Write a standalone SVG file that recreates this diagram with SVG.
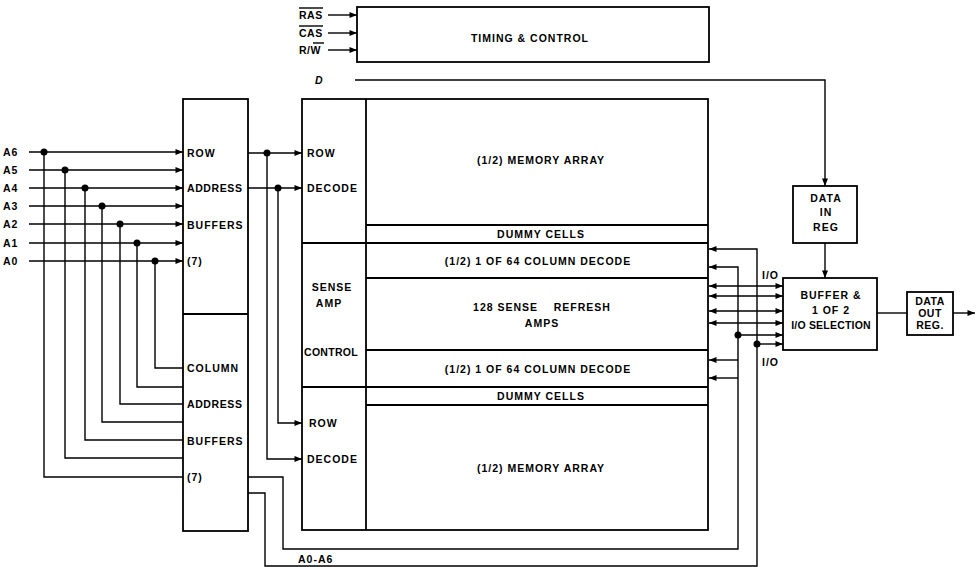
<svg xmlns="http://www.w3.org/2000/svg" width="979" height="567" viewBox="0 0 979 567">
<style>
.b{fill:none;stroke:#000;stroke-width:1.8}
.l{fill:none;stroke:#000;stroke-width:1.4}
.d{fill:#000}
text{font-family:"Liberation Sans",Arial,sans-serif;font-size:10.5px;font-weight:bold;fill:#000;letter-spacing:1px}
.m{text-anchor:middle}
</style>
<defs>
<marker id="a" viewBox="0 0 10 8" refX="10" refY="4" markerWidth="8" markerHeight="6" markerUnits="userSpaceOnUse" orient="auto-start-reverse"><path d="M0,0L10,4L0,8z"/></marker>
</defs>
<rect width="979" height="567" fill="#fff"/>

<g id="timing">
<rect class="b" x="357" y="7" width="352" height="55"/>
<text class="m" x="530" y="42">TIMING &amp; CONTROL</text>
</g>
<g id="inputs-ctrl">
<text x="299" y="19" style="letter-spacing:0.5px">RAS</text><line class="l" x1="299" y1="8" x2="323" y2="8"/>
<text x="299" y="37" style="letter-spacing:0.5px">CAS</text><line class="l" x1="299" y1="26" x2="323" y2="26"/>
<text x="299" y="54" style="letter-spacing:0.5px">R/W</text><line class="l" x1="313" y1="43" x2="324" y2="43"/>
<text x="315" y="84" font-style="italic">D</text>
</g>

<g id="addr-buffers">
<rect class="b" x="183" y="99" width="65" height="432"/>
<line class="b" x1="183" y1="314" x2="248" y2="314"/>
<text x="187" y="157">ROW</text>
<text x="187" y="192" style="letter-spacing:0.6px">ADDRESS</text>
<text x="187" y="229">BUFFERS</text>
<text x="187" y="265">(7)</text>
<text x="187" y="372">COLUMN</text>
<text x="187" y="408" style="letter-spacing:0.6px">ADDRESS</text>
<text x="187" y="445">BUFFERS</text>
<text x="187" y="481">(7)</text>
</g>

<g id="addr-labels">
<text x="3" y="156">A6</text>
<text x="3" y="174">A5</text>
<text x="3" y="192">A4</text>
<text x="3" y="210">A3</text>
<text x="3" y="228">A2</text>
<text x="3" y="247">A1</text>
<text x="3" y="265">A0</text>
</g>

<g id="memory">
<rect class="b" x="302" y="99" width="406" height="431"/>
<line class="b" x1="366" y1="99" x2="366" y2="530"/>
<line class="b" x1="366" y1="225" x2="708" y2="225"/>
<line class="b" x1="302" y1="243" x2="708" y2="243"/>
<line class="b" x1="366" y1="278" x2="708" y2="278"/>
<line class="b" x1="366" y1="350" x2="708" y2="350"/>
<line class="b" x1="302" y1="387" x2="708" y2="387"/>
<line class="b" x1="366" y1="405" x2="708" y2="405"/>
<text x="307" y="157">ROW</text>
<text x="307" y="192">DECODE</text>
<text class="m" x="541" y="164">(1/2) MEMORY ARRAY</text>
<text class="m" x="541" y="238">DUMMY CELLS</text>
<text class="m" x="538" y="265">(1/2) 1 OF 64 COLUMN DECODE</text>
<text class="m" x="332" y="291">SENSE</text>
<text class="m" x="329" y="307">AMP</text>
<text class="m" x="542" y="311" xml:space="preserve">128 SENSE    REFRESH</text>
<text class="m" x="542" y="327">AMPS</text>
<text x="304" y="356" style="letter-spacing:0.3px">CONTROL</text>
<text class="m" x="538" y="373">(1/2) 1 OF 64 COLUMN DECODE</text>
<text class="m" x="541" y="400">DUMMY CELLS</text>
<text x="309" y="427">ROW</text>
<text x="307" y="463">DECODE</text>
<text class="m" x="541" y="472">(1/2) MEMORY ARRAY</text>
</g>

<g id="data-in">
<rect class="b" x="793" y="186" width="64" height="57"/>
<text class="m" x="826" y="202">DATA</text>
<text class="m" x="826" y="216">IN</text>
<text class="m" x="826" y="231">REG</text>
</g>

<g id="buffer">
<rect class="b" x="783" y="278" width="94" height="72"/>
<text class="m" x="831" y="299">BUFFER &amp;</text>
<text class="m" x="831" y="314">1 OF 2</text>
<text class="m" x="831" y="329" style="letter-spacing:0.2px">I/O SELECTION</text>
</g>

<g id="data-out">
<rect class="b" x="907" y="292" width="46" height="43"/>
<text class="m" x="930" y="305" style="letter-spacing:0.5px">DATA</text>
<text class="m" x="930" y="317" style="letter-spacing:0.5px">OUT</text>
<text class="m" x="930" y="329" style="letter-spacing:0.5px">REG.</text>
</g>

<g id="labels">
<text x="762" y="279">I/O</text>
<text x="762" y="366">I/O</text>
<text x="298" y="563">A0-A6</text>
</g>

<g id="connectors">
<path class="l" d="M328,15H357" marker-end="url(#a)"/>
<path class="l" d="M328,33H357" marker-end="url(#a)"/>
<path class="l" d="M328,50H357" marker-end="url(#a)"/>
<path class="l" d="M355,80H825V186" marker-end="url(#a)"/>
<path class="l" d="M825,243V278" marker-end="url(#a)"/>
<path class="l" d="M877,313H907"/>
<path class="l" d="M953,313H975" marker-end="url(#a)"/>

<path class="l" d="M29,152H183" marker-end="url(#a)"/>
<path class="l" d="M29,170H183" marker-end="url(#a)"/>
<path class="l" d="M29,188H183" marker-end="url(#a)"/>
<path class="l" d="M29,206H183" marker-end="url(#a)" stroke-width="2.2"/>
<path class="l" d="M29,224H183" marker-end="url(#a)"/>
<path class="l" d="M29,243H183" marker-end="url(#a)"/>
<path class="l" d="M29,261H183" marker-end="url(#a)"/>
<path class="l" d="M44,152V477H183"/>
<path class="l" d="M65,170V458H183"/>
<path class="l" d="M85,188V440H183"/>
<path class="l" d="M102,206V422H183"/>
<path class="l" d="M120,224V404H183"/>
<path class="l" d="M137,243V387H183"/>
<path class="l" d="M155,261V368H183"/>
<circle class="d" cx="44" cy="152" r="3.5"/>
<circle class="d" cx="65" cy="170" r="3.5"/>
<circle class="d" cx="85" cy="188" r="3.5"/>
<circle class="d" cx="102" cy="206" r="3.5"/>
<circle class="d" cx="120" cy="224" r="3.5"/>
<circle class="d" cx="137" cy="243" r="3.5"/>
<circle class="d" cx="155" cy="261" r="3.5"/>

<path class="l" d="M248,153H302" marker-end="url(#a)"/>
<path class="l" d="M248,188H302" marker-end="url(#a)"/>
<path class="l" d="M267,153V459H302" marker-end="url(#a)"/>
<path class="l" d="M278,188V423H302" marker-end="url(#a)"/>
<circle class="d" cx="267" cy="153" r="3.5"/>
<circle class="d" cx="278" cy="188" r="3.5"/>

<path class="l" d="M248,477H283V549H738V267H709" marker-end="url(#a)"/>
<path class="l" d="M248,493H265V566H757V249H709" marker-end="url(#a)"/>
<path class="l" d="M709,286H783" marker-start="url(#a)" marker-end="url(#a)"/>
<path class="l" d="M709,296H783" marker-start="url(#a)" marker-end="url(#a)"/>
<path class="l" d="M709,311H783" marker-start="url(#a)" marker-end="url(#a)"/>
<path class="l" d="M709,323H783" marker-start="url(#a)" marker-end="url(#a)"/>
<path class="l" d="M738,335H783" marker-end="url(#a)"/>
<path class="l" d="M757,344H783" marker-end="url(#a)"/>
<circle class="d" cx="738" cy="335" r="3.5"/>
<circle class="d" cx="757" cy="344" r="3.5"/>
<path class="l" d="M738,360H709" marker-end="url(#a)"/>
<path class="l" d="M738,378H709" marker-end="url(#a)"/>
</g>
</svg>
